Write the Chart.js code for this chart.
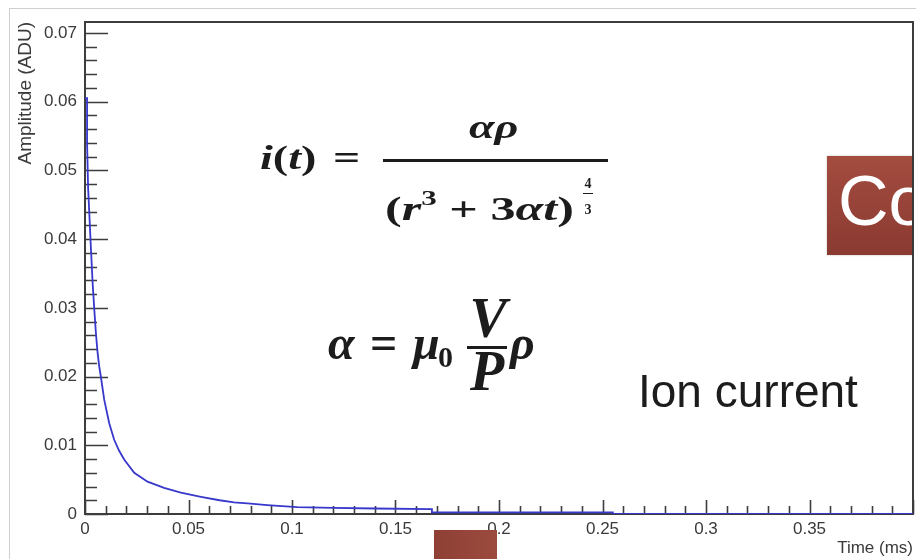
<!DOCTYPE html>
<html lang="en">
<head>
  <meta charset="UTF-8">
  <title>Ion current</title>
  <script src="https://cdn.jsdelivr.net/npm/chart.js"></script>
  <style>
    body { margin: 0; background: #fff; }
    #stage { position: relative; width: 916px; height: 559px; overflow: hidden; background: #fff; }
    #chart { position: absolute; left: 0; top: 0; }
    .ov { position: absolute; left: 0; top: 0; white-space: nowrap; line-height: 1; color: #1c1c1c; }
    .bl { display: inline-block; width: 0; height: 0; }
    .bar { position: absolute; background: #1c1c1c; }
    .edge { position: absolute; background: #cfcfcf; }
    .box { position: absolute; overflow: hidden; }
  </style>
</head>
<body>
<div id="stage">
  <canvas id="chart" width="916" height="559"></canvas>
</div>

<script>
  // histogram
  const timeMs = [0, 0.001, 0.001, 0.0015, 0.0022, 0.0029, 0.0037, 0.0045, 0.0053, 0.0061,
                  0.0069, 0.0077, 0.0093, 0.0117, 0.0141, 0.0165, 0.019, 0.0238, 0.0302, 0.0382,
                  0.0463, 0.056, 0.065, 0.072, 0.080, 0.088, 0.1025, 0.12, 0.14, 0.1676,
                  0.1676, 0.255, 0.255, 0.4];
  const amplitude = [0.0605, 0.0605, 0.054, 0.0475, 0.043, 0.0384, 0.0335, 0.0297, 0.0262, 0.0234,
                     0.0214, 0.0199, 0.0166, 0.0132, 0.0108, 0.0092, 0.0079, 0.006, 0.0047, 0.0038,
                     0.0031, 0.0025, 0.0020, 0.0017, 0.0015, 0.0013, 0.0010, 0.0009, 0.0008, 0.0007,
                     0.00025, 0.00025, 0.00003, 0.00003];

  const xTicks = [0, 0.05, 0.1, 0.15, 0.2, 0.25, 0.3, 0.35];
  const xTickLabels = ['0', '0.05', '0.1', '0.15', '0.2', '0.25', '0.3', '0.35'];
  const yTicks = [0, 0.01, 0.02, 0.03, 0.04, 0.05, 0.06, 0.07];
  const yTickLabels = ['0', '0.01', '0.02', '0.03', '0.04', '0.05', '0.06', '0.07'];

  const axisFont = 'Liberation Sans, Arial, sans-serif';
  const axisColor = '#3a3a3a';

  // ROOT style frame with ticks pointing inwards
  const rootFrame = {
    id: 'rootFrame',
    beforeDatasetsDraw(chart) {
      const { ctx, chartArea: a, scales: { x, y } } = chart;
      ctx.save();
      ctx.strokeStyle = '#3d3d3d';
      ctx.lineWidth = 1.6;
      ctx.beginPath();
      const xs = xTicks[1] - xTicks[0];
      for (let v = xTicks[0]; v <= x.max + 1e-9; v += xs / 5) {
        const px = Math.round(x.getPixelForValue(v)) + 0.5;
        const major = Math.abs(v / xs - Math.round(v / xs)) < 1e-6;
        ctx.moveTo(px, a.bottom);
        ctx.lineTo(px, a.bottom - (major ? 14 : 8));
      }
      const ys = yTicks[1] - yTicks[0];
      for (let v = yTicks[0]; v <= y.max + 1e-9; v += ys / 5) {
        const py = Math.round(y.getPixelForValue(v)) + 0.5;
        const major = Math.abs(v / ys - Math.round(v / ys)) < 1e-6;
        ctx.moveTo(a.left, py);
        ctx.lineTo(a.left + (major ? 23 : 12), py);
      }
      ctx.stroke();
      ctx.lineWidth = 2;
      ctx.strokeRect(a.left, a.top, a.right - a.left, a.bottom - a.top);
      ctx.restore();
    }
  };

  new Chart(document.getElementById('chart'), {
    type: 'line',
    data: {
      datasets: [{
        data: timeMs.map((t, i) => ({ x: t, y: amplitude[i] })),
        borderColor: '#3838cc',
        borderWidth: 1.8,
        pointRadius: 0,
        tension: 0,
        fill: false
      }]
    },
    options: {
      responsive: false,
      animation: false,
      devicePixelRatio: 1,
      layout: { padding: { top: 22, right: 3, left: 0, bottom: 0 } },
      plugins: { legend: { display: false }, tooltip: { enabled: false } },
      scales: {
        x: {
          type: 'linear',
          min: 0,
          max: 0.4,
          afterBuildTicks: s => { s.ticks = xTicks.map(v => ({ value: v })); },
          afterFit: s => { s.height = 45; },
          grid: { display: false, drawTicks: false },
          border: { display: false },
          ticks: {
            callback: (v, i) => xTickLabels[i],
            font: { family: axisFont, size: 17 },
            color: axisColor,
            padding: 5,
            maxRotation: 0,
            autoSkip: false
          },
          title: {
            display: true,
            text: 'Time (ms)',
            align: 'end',
            color: axisColor,
            font: { family: axisFont, size: 17 },
            padding: { top: 0, bottom: 0 }
          }
        },
        y: {
          type: 'linear',
          min: 0,
          max: 0.0716,
          afterBuildTicks: s => { s.ticks = yTicks.map(v => ({ value: v })); },
          afterFit: s => { s.width = 85; },
          grid: { display: false, drawTicks: false },
          border: { display: false },
          ticks: {
            callback: (v, i) => yTickLabels[i],
            font: { family: axisFont, size: 17 },
            color: axisColor,
            padding: 8,
            autoSkip: false
          },
          title: {
            display: true,
            text: 'Amplitude (ADU)',
            align: 'end',
            color: axisColor,
            font: { family: axisFont, size: 19 },
            padding: { top: 14, bottom: 0 }
          }
        }
      }
    },
    plugins: [rootFrame]
  });

  // slide overlays (text placed by baseline)
  const stage = document.getElementById('stage');
  function put(html, x, baseline, font, align, sx) {
    sx = sx || 1;
    const d = document.createElement('div');
    d.className = 'ov';
    d.style.font = font;
    d.innerHTML = html + '<span class="bl"></span>';
    stage.appendChild(d);
    const base = d.querySelector('.bl').offsetTop;
    const w = d.offsetWidth * sx;
    let left = x;
    if (align === 'center') left -= w / 2;
    if (align === 'right') left -= w;
    d.style.left = left + 'px';
    d.style.top = (baseline - base) + 'px';
    d.style.transformOrigin = '0 0';
    d.style.transform = 'scaleX(' + sx + ')';
    return d;
  }
  function rect(cls, l, t, w, h, bg) {
    const d = document.createElement('div');
    d.className = cls;
    Object.assign(d.style, { left: l + 'px', top: t + 'px', width: w + 'px', height: h + 'px' });
    if (bg) d.style.background = bg;
    stage.appendChild(d);
    return d;
  }

  rect('edge', 9, 8, 907, 1);
  rect('edge', 9, 8, 1, 551);

  const serif = 'Liberation Serif, Times New Roman, serif';
  const f1 = 'bold 33px ' + serif;
  put('<i>i</i>(<i>t</i>)', 260, 169, f1, 'left', 1.4);
  put('=', 333, 169, f1, 'left', 1.45);
  rect('bar', 383, 159, 225, 2.5);
  put('<i>αρ</i>', 493, 138, f1, 'center', 1.4);
  put('(<i>r</i><span style="font-size:0.62em;position:relative;top:-0.75em">3</span> + 3<i>αt</i>)', 385, 220, f1, 'left', 1.52);
  put('4', 588, 188, 'bold 14px ' + serif, 'center');
  rect('bar', 583, 193, 10, 1.2);
  put('3', 588, 214, 'bold 14px ' + serif, 'center');

  const f2 = 'bold 48px ' + serif;
  put('<i>α</i>', 328, 359, f2, 'left');
  put('=', 370, 359, f2, 'left');
  put('<i>μ</i>', 413, 359, f2, 'left');
  put('0', 438, 367, 'bold 30px ' + serif, 'left');
  rect('bar', 467, 346, 40, 2.5);
  put('<i>V</i>', 488, 337, 'bold 56px ' + serif, 'center');
  put('<i>P</i>', 487, 390, 'bold 56px ' + serif, 'center');
  put('<i>ρ</i>', 510, 359, f2, 'left');

  put('Ion current', 638, 407, '300 46px Liberation Sans, Arial, sans-serif', 'left');

  const co = rect('box', 827, 156, 85, 99, 'linear-gradient(#a44c40, #8a3a31)');
  co.style.boxShadow = '0 0 2px rgba(0,0,0,0.25)';
  const coText = document.createElement('div');
  Object.assign(coText.style, {
    position: 'absolute', left: '11px', top: '10px', color: '#fff',
    font: '300 70px Liberation Sans, Arial, sans-serif', lineHeight: '1', whiteSpace: 'nowrap'
  });
  coText.textContent = 'Co';
  co.appendChild(coText);

  rect('box', 434, 530, 63, 29, 'linear-gradient(90deg, #8e4034, #9c4a3e)');
</script>
</body>
</html>
